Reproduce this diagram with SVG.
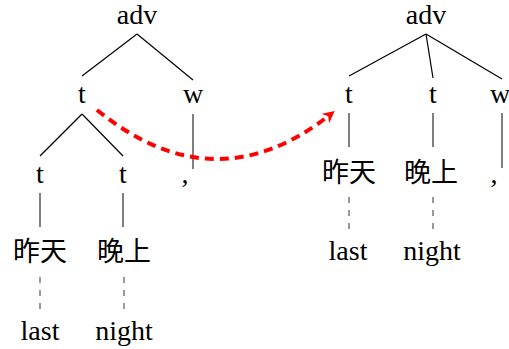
<svg xmlns="http://www.w3.org/2000/svg" width="509" height="349" viewBox="0 0 509 349">
<style>
.lat{font-family:"Liberation Serif","Times New Roman",serif;font-size:28px;fill:#000;text-anchor:middle}
.cjk{font-family:"Liberation Serif","Noto Sans CJK SC",serif;font-size:27px;fill:#000;text-anchor:middle}
.edge{stroke:#000;stroke-width:1.2;fill:none}
.solid{stroke:#555;stroke-width:1.5;fill:none}
.dash{stroke:#555;stroke-width:1.2;fill:none;stroke-dasharray:6,7}
.move{stroke:#f00;stroke-width:4;fill:none;stroke-dasharray:9,6}
</style>
<defs>
<marker id="ah" viewBox="0 0 10 10" refX="6" refY="5" markerWidth="3" markerHeight="3" orient="auto" markerUnits="strokeWidth">
<path d="M0,0 L10,5 L0,10 L3,5 z" fill="#f00"/>
</marker>
</defs>
<g id="connectors">
<line class="edge" x1="137" y1="34" x2="82" y2="76"/>
<line class="edge" x1="137" y1="34" x2="193" y2="80"/>
<line class="edge" x1="82" y1="114" x2="40" y2="156"/>
<line class="edge" x1="82" y1="114" x2="123" y2="156"/>
<line class="solid" x1="193" y1="114" x2="193" y2="169"/>
<line class="solid" x1="40" y1="193" x2="40" y2="227"/>
<line class="solid" x1="123" y1="193" x2="123" y2="227"/>
<line class="dash" x1="40" y1="277" x2="40" y2="313"/>
<line class="dash" x1="124" y1="277" x2="124" y2="313"/>
<line class="edge" x1="426" y1="34" x2="349" y2="76"/>
<line class="edge" x1="426" y1="34" x2="433" y2="78"/>
<line class="edge" x1="426" y1="34" x2="502" y2="79"/>
<line class="solid" x1="349" y1="113" x2="349" y2="147"/>
<line class="solid" x1="433" y1="113" x2="433" y2="147"/>
<line class="solid" x1="502" y1="113" x2="502" y2="168"/>
<line class="dash" x1="349" y1="197" x2="349" y2="233"/>
<line class="dash" x1="433" y1="197" x2="433" y2="233"/>
<path class="move" d="M97,110 Q215,206 331,114" marker-end="url(#ah)"/>
</g>
<g id="left-adv"><text class="lat" x="137" y="24">adv</text></g>
<g id="left-t"><text class="lat" x="82" y="103">t</text></g>
<g id="left-w"><text class="lat" x="193" y="103">w</text></g>
<g id="left-t1"><text class="lat" x="40" y="183">t</text></g>
<g id="left-t2"><text class="lat" x="123" y="183">t</text></g>
<g id="left-comma"><text class="lat" x="185" y="183">,</text></g>
<g id="left-zuotian"><text class="cjk" x="40" y="261">昨天</text></g>
<g id="left-wanshang"><text class="cjk" x="124" y="261">晚上</text></g>
<g id="left-last"><text class="lat" x="40" y="340">last</text></g>
<g id="left-night"><text class="lat" x="124" y="340">night</text></g>
<g id="right-adv"><text class="lat" x="426" y="24">adv</text></g>
<g id="right-t1"><text class="lat" x="349" y="103">t</text></g>
<g id="right-t2"><text class="lat" x="433" y="103">t</text></g>
<g id="right-w"><text class="lat" x="500" y="103">w</text></g>
<g id="right-zuotian"><text class="cjk" x="349" y="182">昨天</text></g>
<g id="right-wanshang"><text class="cjk" x="431" y="182">晚上</text></g>
<g id="right-comma"><text class="lat" x="494" y="183">,</text></g>
<g id="right-last"><text class="lat" x="348" y="260">last</text></g>
<g id="right-night"><text class="lat" x="432" y="260">night</text></g>
</svg>
